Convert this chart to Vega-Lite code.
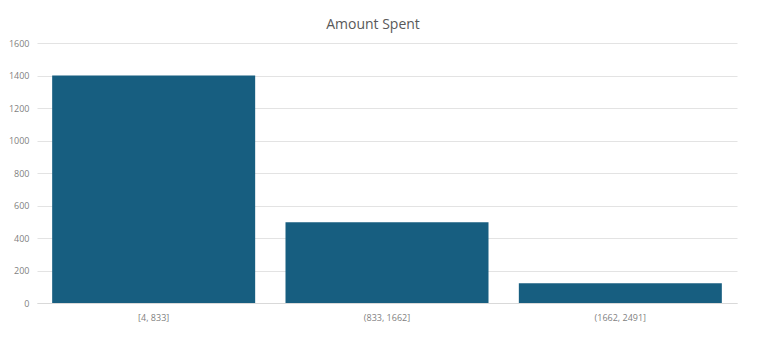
{
  "$schema": "https://vega.github.io/schema/vega-lite/v6.json",
  "width": 700,
  "height": 260,
  "autosize": {"type": "none"},
  "padding": {"left": 37, "top": 43, "right": 26, "bottom": 53},
  "background": "white",
  "title": {"text": "Amount Spent", "fontSize": 14, "font": "Open Sans", "fontWeight": "normal", "color": "#595959", "anchor": "middle", "offset": 7, "dx": -14},
  "data": {"values": [
    {"bin": "[4, 833]", "count": 1400},
    {"bin": "(833, 1662]", "count": 497},
    {"bin": "(1662, 2491]", "count": 122}
  ]},
  "mark": {"type": "bar", "color": "#175e80"},
  "encoding": {
    "x": {"field": "bin", "type": "nominal", "sort": null, "title": null,
      "scale": {"paddingInner": 0.13, "paddingOuter": 0.065},
      "axis": {"labelAngle": 0, "labelFont": "Open Sans", "labelFontSize": 9, "labelColor": "#7f7f7f", "ticks": false, "domainColor": "#d9d9d9", "labelPadding": 10}},
    "y": {"field": "count", "type": "quantitative", "title": null,
      "scale": {"domain": [0, 1600]},
      "axis": {"values": [0, 200, 400, 600, 800, 1000, 1200, 1400, 1600], "format": "d", "labelFont": "Open Sans", "labelFontSize": 9, "labelColor": "#7f7f7f", "ticks": false, "domain": false, "gridColor": "#e3e3e3", "labelPadding": 8}}
  },
  "config": {"view": {"stroke": null}}
}
